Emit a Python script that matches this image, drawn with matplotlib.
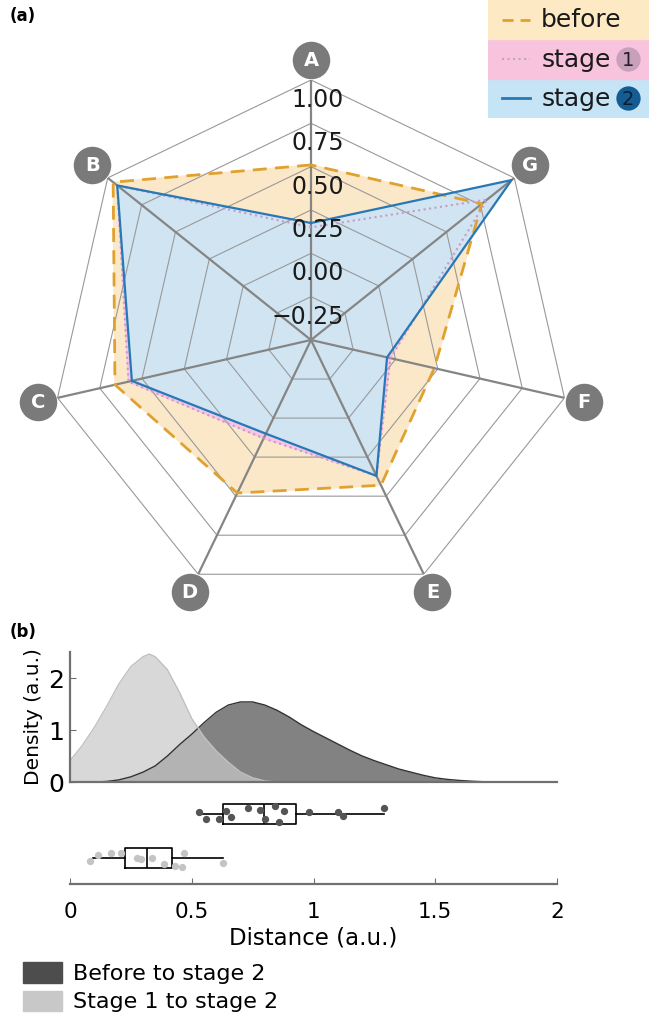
import numpy as np
import matplotlib
matplotlib.use("Agg")
import matplotlib.pyplot as plt
from matplotlib.patches import Patch, Rectangle

# ---- panel (a): radar values ----
axis_names = ['A', 'B', 'C', 'D', 'E', 'F', 'G']
before = [0.51, 0.96, 0.66, 0.48, 0.43, 0.23, 0.76]
stage1 = [0.15, 0.93, 0.58, 0.13, 0.37, -0.03, 0.80]
stage2 = [0.175, 0.93, 0.56, 0.10, 0.37, -0.05, 0.98]
ring_values = [-0.25, 0.0, 0.25, 0.5, 0.75, 1.0]
r_min, r_max = -0.5, 1.0

# ---- panel (b): densities ----
dens_x_s1 = [0.00, 0.05, 0.10, 0.15, 0.20, 0.25, 0.30, 0.325, 0.35, 0.40, 0.45,
             0.50, 0.55, 0.60, 0.65, 0.70, 0.75, 0.80, 0.85]
dens_s1 = [0.41, 0.70, 1.05, 1.45, 1.88, 2.22, 2.41, 2.46, 2.41, 2.16, 1.72,
           1.22, 0.87, 0.60, 0.38, 0.19, 0.08, 0.02, 0.0]
dens_x_b = [0.10, 0.15, 0.20, 0.25, 0.30, 0.35, 0.40, 0.45, 0.50, 0.55,
            0.60, 0.65, 0.70, 0.75, 0.80, 0.85, 0.90, 0.95, 1.00, 1.05,
            1.10, 1.15, 1.20, 1.25, 1.30, 1.35, 1.40, 1.45, 1.50, 1.55,
            1.60, 1.65, 1.70, 1.75]
dens_b = [0.0, 0.01, 0.04, 0.10, 0.19, 0.31, 0.50, 0.72, 0.92, 1.14,
          1.34, 1.48, 1.54, 1.54, 1.48, 1.38, 1.25, 1.10, 0.97, 0.85,
          0.73, 0.61, 0.50, 0.41, 0.33, 0.25, 0.19, 0.13, 0.08, 0.05,
          0.03, 0.015, 0.005, 0.0]

# box statistics and individual distances
box_b = dict(med=0.795, q1=0.63, q3=0.93, whislo=0.525, whishi=1.29, fliers=[])
box_s1 = dict(med=0.316, q1=0.226, q3=0.419, whislo=0.094, whishi=0.628, fliers=[])
pts_b = [0.53, 0.56, 0.61, 0.64, 0.66, 0.73, 0.78, 0.80, 0.84, 0.86, 0.88, 0.98, 1.10, 1.12, 1.29]
jit_b = [0.05, -0.10, -0.12, 0.08, -0.06, 0.15, 0.10, -0.12, 0.18, -0.18, 0.08, 0.06, 0.06, -0.05, 0.14]
pts_s1 = [0.082, 0.116, 0.17, 0.21, 0.275, 0.29, 0.337, 0.386, 0.43, 0.46, 0.47, 0.63]
jit_s1 = [-0.06, 0.07, 0.11, 0.11, 0.0, -0.02, 0.0, -0.14, -0.18, -0.2, 0.11, -0.12]

fig = plt.figure(figsize=(6.49, 10.23), dpi=100)
W, H = 649, 1023

# ---------------- radar ----------------
ax = fig.add_axes([51 / W, 1 - 600 / H, 520 / W, 520 / H], projection='polar')
ax.set_theta_offset(np.pi / 2)
ax.set_ylim(r_min, r_max)
ax.axis('off')

theta = np.linspace(0, 2 * np.pi, len(axis_names), endpoint=False)
th_c = np.append(theta, theta[0])

def closed(v):
    return np.append(v, v[0])

ax.fill(th_c, closed(before), color='#fbe8c8', zorder=1)
ax.fill(th_c, closed(stage1), color='#f6c6e4', zorder=1)
ax.fill(th_c, closed(stage2), color='#d0e4f2', zorder=1)

for v in ring_values:
    ax.plot(th_c, [v] * len(th_c), color='#999999', lw=0.8, zorder=2)
for t in theta:
    ax.plot([t, t], [r_min, r_max], color='#858585', lw=1.6, zorder=2)

ax.plot(th_c, closed(before), color='#e0a12e', lw=2, ls=(0, (5, 3)), zorder=3)
ax.plot(th_c, closed(stage1), color='#c99ac9', lw=1.5, ls=':', zorder=3)
ax.plot(th_c, closed(stage2), color='#2878b5', lw=1.6, zorder=4)

for v in ring_values:
    ax.annotate(('%.2f' % v).replace('-', '\u2212'), xy=(0, v), xytext=(23.5, -14.5),
                textcoords='offset points', ha='right', va='center',
                fontsize=17, color='#1a1a1a', zorder=6)

for t, name in zip(theta, axis_names):
    ax.plot(t, 1.115, 'o', ms=27, color='#7a7a7a', mec='none', clip_on=False, zorder=6)
    ax.text(t, 1.115, name, color='white', fontsize=14, fontweight='bold',
            ha='center', va='center', zorder=7)

# legend box at top right
lg = fig.add_axes([488 / W, 1 - 118 / H, 161 / W, 118 / H])
lg.set_xlim(0, 1)
lg.set_ylim(0, 3)
lg.axis('off')
row_cols = ['#c5e5f7', '#f8c3dd', '#fde9c3']
for i, c in enumerate(row_cols):
    lg.add_patch(Rectangle((0, i), 1, 1, color=c))
lg.plot([0.09, 0.26], [2.5, 2.5], color='#e0a12e', lw=2, ls=(0, (4, 2.5)))
lg.plot([0.09, 0.26], [1.5, 1.5], color='#b9a6c9', lw=1.5, ls=':')
lg.plot([0.09, 0.26], [0.5, 0.5], color='#2878b5', lw=2)
lg.text(0.33, 2.48, 'before', fontsize=18, va='center', color='#1a1a1a')
lg.text(0.33, 1.48, 'stage', fontsize=18, va='center', color='#1a1a1a')
lg.text(0.33, 0.48, 'stage', fontsize=18, va='center', color='#1a1a1a')
lg.plot(0.87, 1.5, 'o', ms=17.5, color='#c8a0bb', mec='none')
lg.plot(0.87, 0.5, 'o', ms=17.5, color='#155c93', mec='none')
lg.text(0.87, 1.47, '1', fontsize=14, ha='center', va='center', color='#222222')
lg.text(0.87, 0.47, '2', fontsize=14, ha='center', va='center', color='#0b1e33')

fig.text(10 / W, 1 - 16 / H, '(a)', fontsize=12, fontweight='bold', va='center')
fig.text(10 / W, 1 - 632 / H, '(b)', fontsize=12, fontweight='bold', va='center')

# ---------------- densities ----------------
axd = fig.add_axes([70 / W, 1 - 782 / H, 487 / W, 130 / H])
axd.fill_between(dens_x_b, dens_b, color='#4d4d4d', alpha=0.7, lw=0)
axd.plot(dens_x_b, dens_b, color='#333333', lw=1)
axd.fill_between(dens_x_s1, dens_s1, color='#c8c8c8', alpha=0.7, lw=0)
axd.plot(dens_x_s1, dens_s1, color='#c0c0c0', lw=1)
axd.set_xlim(0, 2)
axd.set_ylim(0, 2.5)
axd.set_yticks([0, 1, 2])
axd.set_xticks([])
for s in ['top', 'right']:
    axd.spines[s].set_visible(False)
for s in ['left', 'bottom']:
    axd.spines[s].set_color('#707070')
    axd.spines[s].set_linewidth(1.6)
axd.tick_params(axis='y', direction='in', length=4, color='#707070',
                labelsize=18, pad=4)
axd.set_ylabel('Density (a.u.)', fontsize=14.5, labelpad=4)
axd.patch.set_alpha(0)

# ---------------- box plots ----------------
axb = fig.add_axes([70 / W, 1 - 884 / H, 487 / W, 94 / H])
axb.bxp([box_s1, box_b], positions=[1, 2], widths=0.45, orientation='horizontal',
        showcaps=False,
        boxprops=dict(color='black', lw=1.2),
        whiskerprops=dict(color='black', lw=1.2),
        medianprops=dict(color='black', lw=1.2))
axb.scatter(pts_b, 2 + np.array(jit_b), s=18, color='#555555', zorder=3)
axb.scatter(pts_s1, 1 + np.array(jit_s1), s=18, color='#c4c4c4', zorder=3)
axb.set_xlim(0, 2)
axb.set_ylim(0.41, 2.55)
axb.set_yticks([])
axb.set_xticks([0, 0.5, 1, 1.5, 2])
axb.set_xticklabels(['0', '0.5', '1', '1.5', '2'])
for s in ['top', 'right', 'left']:
    axb.spines[s].set_visible(False)
axb.spines['bottom'].set_color('#707070')
axb.spines['bottom'].set_linewidth(1.6)
axb.tick_params(axis='x', direction='in', length=4, color='#707070',
                labelsize=15.5, pad=13)
axb.set_xlabel('Distance (a.u.)', fontsize=16.5, labelpad=3)
axb.patch.set_alpha(0)

handles = [Patch(color='#4d4d4d'), Patch(color='#c8c8c8')]
fig.legend(handles, ['Before to stage 2', 'Stage 1 to stage 2'],
           loc='upper left', bbox_to_anchor=(23 / W, 1 - 962 / H),
           frameon=False, fontsize=16, handlelength=1.75, handleheight=1.05,
           handletextpad=0.5, labelspacing=0.3, borderpad=0, borderaxespad=0)

fig.savefig('out.png', dpi=100)
